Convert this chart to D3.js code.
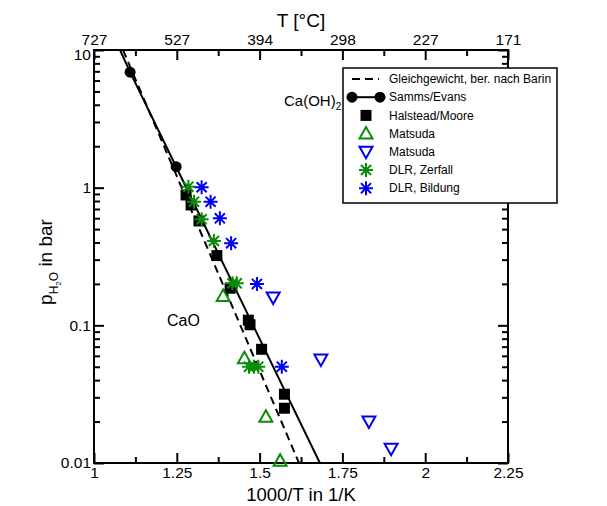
<!DOCTYPE html>
<html>
<head>
<meta charset="utf-8">
<script src="https://cdn.jsdelivr.net/npm/d3@7"></script>
<style>
  body { margin: 0; background: #fff; }
  text { font-family: "Liberation Sans", Arial, Helvetica, sans-serif; }
</style>
</head>
<body>
<svg id="chart" width="607" height="506"></svg>
<script>
// axis ticks
const xTicks = [1, 1.25, 1.5, 1.75, 2, 2.25];
const xMinorTicks = [1.125, 1.375, 1.625, 1.875, 2.125];
const tempLabels = ["727", "527", "394", "298", "227", "171"];
const yTicks = [0.01, 0.1, 1, 10];
const yTickLabels = ["0.01", "0.1", "1", "10"];

// equilibrium line (Barin)
const barinX = [1.0876, 1.619];
const barinP = [10, 0.01];

// Samms/Evans line and its measured points
const sammsLineX = [1.0785, 1.109, 1.248, 1.682];
const sammsLineP = [10, 6.9, 1.42, 0.01];
const sammsX = [1.109, 1.248];
const sammsP = [6.9, 1.42];

// Halstead/Moore
const halsteadX = [1.278, 1.293, 1.317, 1.371, 1.411, 1.466, 1.471, 1.506, 1.575, 1.575];
const halsteadP = [0.885, 0.749, 0.573, 0.321, 0.186, 0.109, 0.101, 0.067, 0.0316, 0.025];

// Matsuda (up, green)
const matsudaUpX = [1.390, 1.454, 1.519, 1.562];
const matsudaUpP = [0.1635, 0.0577, 0.0217, 0.0104];

// Matsuda (down, blue)
const matsudaDownX = [1.541, 1.685, 1.830, 1.897];
const matsudaDownP = [0.159, 0.0565, 0.020, 0.0127];

// DLR, Zerfall
const zerfallX = [1.285, 1.302, 1.325, 1.362, 1.418, 1.431, 1.468, 1.483, 1.496];
const zerfallP = [1.017, 0.791, 0.589, 0.410, 0.202, 0.202, 0.0501, 0.0501, 0.0501];

// DLR, Bildung
const bildungX = [1.325, 1.352, 1.380, 1.414, 1.492, 1.567];
const bildungP = [1.007, 0.791, 0.599, 0.395, 0.200, 0.0501];

const legendItems = ["Gleichgewicht, ber. nach Barin", "Samms/Evans", "Halstead/Moore",
  "Matsuda", "Matsuda", "DLR, Zerfall", "DLR, Bildung"];

const green = "#0a8c0a";
const blue = "#0000f0";

const margin = { top: 50, right: 99, bottom: 43, left: 94 };
const width = 607, height = 506;

const svg = d3.select("#chart");

const x = d3.scaleLinear().domain([1, 2.25]).range([margin.left, width - margin.right]);
const y = d3.scaleLog().domain([0.01, 10]).range([height - margin.bottom, margin.top]);

const zip = (xs, ps) => xs.map((v, i) => ({ x: v, p: ps[i] }));

svg.append("defs").append("clipPath").attr("id", "plotClip")
  .append("rect")
  .attr("x", x(1)).attr("y", y(10))
  .attr("width", x(2.25) - x(1)).attr("height", y(0.01) - y(10));

// axes
const yMinor = y.ticks().filter(t => !yTicks.includes(t));

function styleAxis(g) {
  g.select(".domain").remove();
  g.selectAll(".tick line").attr("stroke", "#000").attr("stroke-width", 2);
  g.selectAll("text").attr("font-size", 15.5).attr("fill", "#000");
}

svg.append("g")
  .attr("transform", `translate(0,${y(0.01)})`)
  .call(d3.axisBottom(x).tickValues(xTicks).tickSize(-10).tickPadding(4)
    .tickFormat(d3.format("")))
  .call(styleAxis);
svg.append("g")
  .attr("transform", `translate(0,${y(0.01)})`)
  .call(d3.axisBottom(x).tickValues(xMinorTicks).tickSize(-6).tickFormat(""))
  .call(styleAxis);

svg.append("g")
  .attr("transform", `translate(0,${y(10)})`)
  .call(d3.axisTop(x).tickValues(xTicks).tickSize(-10).tickPadding(5)
    .tickFormat((d, i) => tempLabels[i]))
  .call(styleAxis);
svg.append("g")
  .attr("transform", `translate(0,${y(10)})`)
  .call(d3.axisTop(x).tickValues(xMinorTicks).tickSize(-6).tickFormat(""))
  .call(styleAxis);

const leftAxis = svg.append("g")
  .attr("transform", `translate(${x(1)},0)`)
  .call(d3.axisLeft(y).tickValues(yTicks).tickSize(-10).tickPadding(3)
    .tickFormat((d, i) => yTickLabels[i]))
  .call(styleAxis);
// the "10" label sits a little lower, below the top corner label
leftAxis.selectAll(".tick text").filter(d => d === 10).attr("dy", "0.62em");
svg.append("g")
  .attr("transform", `translate(${x(1)},0)`)
  .call(d3.axisLeft(y).tickValues(yMinor).tickSize(-6).tickFormat(""))
  .call(styleAxis);

svg.append("g")
  .attr("transform", `translate(${x(2.25)},0)`)
  .call(d3.axisRight(y).tickValues(yTicks).tickSize(-10).tickFormat(""))
  .call(styleAxis);
svg.append("g")
  .attr("transform", `translate(${x(2.25)},0)`)
  .call(d3.axisRight(y).tickValues(yMinor).tickSize(-6).tickFormat(""))
  .call(styleAxis);

// frame
svg.append("rect")
  .attr("x", x(1)).attr("y", y(10))
  .attr("width", x(2.25) - x(1)).attr("height", y(0.01) - y(10))
  .attr("fill", "none").attr("stroke", "#000").attr("stroke-width", 2);

// lines
const line = d3.line().x(d => x(d.x)).y(d => y(d.p));
const plot = svg.append("g").attr("clip-path", "url(#plotClip)");

plot.append("path")
  .attr("d", line(zip(barinX, barinP)))
  .attr("fill", "none").attr("stroke", "#000").attr("stroke-width", 2)
  .attr("stroke-dasharray", "8,5");

plot.append("path")
  .attr("d", line(zip(sammsLineX, sammsLineP)))
  .attr("fill", "none").attr("stroke", "#000").attr("stroke-width", 2);

// symbol helpers
function star(g, cx, cy, r, color) {
  const d = [[0, -r, 0, r], [-r, 0, r, 0], [-r * 0.72, -r * 0.72, r * 0.72, r * 0.72],
    [-r * 0.72, r * 0.72, r * 0.72, -r * 0.72]]
    .map(s => `M${cx + s[0]},${cy + s[1]}L${cx + s[2]},${cy + s[3]}`).join("");
  g.append("path").attr("d", d).attr("stroke", color).attr("stroke-width", 2).attr("fill", "none");
}
function triUp(g, cx, cy, color) {
  g.append("path")
    .attr("d", `M${cx},${cy - 6.5}L${cx + 6.5},${cy + 5}L${cx - 6.5},${cy + 5}Z`)
    .attr("fill", "none").attr("stroke", color).attr("stroke-width", 2);
}
function triDown(g, cx, cy, color) {
  g.append("path")
    .attr("d", `M${cx},${cy + 6.5}L${cx + 6.5},${cy - 5}L${cx - 6.5},${cy - 5}Z`)
    .attr("fill", "none").attr("stroke", color).attr("stroke-width", 2);
}
function square(g, cx, cy) {
  g.append("rect").attr("x", cx - 5.5).attr("y", cy - 5.5)
    .attr("width", 11).attr("height", 11).attr("fill", "#000");
}
function dot(g, cx, cy) {
  g.append("circle").attr("cx", cx).attr("cy", cy).attr("r", 5.5).attr("fill", "#000");
}

const marks = svg.append("g");
zip(sammsX, sammsP).forEach(d => dot(marks, x(d.x), y(d.p)));
zip(halsteadX, halsteadP).forEach(d => square(marks, x(d.x), y(d.p)));
zip(matsudaUpX, matsudaUpP).forEach(d => triUp(marks, x(d.x), y(d.p), green));
zip(matsudaDownX, matsudaDownP).forEach(d => triDown(marks, x(d.x), y(d.p), blue));
zip(zerfallX, zerfallP).forEach(d => star(marks, x(d.x), y(d.p), 7, green));
zip(bildungX, bildungP).forEach(d => star(marks, x(d.x), y(d.p), 7, blue));

// annotations
const caoh = svg.append("text").attr("x", 284).attr("y", 106).attr("font-size", 15);
caoh.append("tspan").text("Ca(OH)");
caoh.append("tspan").attr("font-size", 10).attr("dy", 4).text("2");
svg.append("text").attr("x", 167).attr("y", 326).attr("font-size", 16).text("CaO");

// axis titles
svg.append("text").attr("x", 301).attr("y", 27).attr("text-anchor", "middle")
  .attr("font-size", 19).text("T [°C]");
svg.append("text").attr("x", 301).attr("y", 501).attr("text-anchor", "middle")
  .attr("font-size", 18.5).text("1000/T in 1/K");

const yTitle = svg.append("text")
  .attr("transform", "translate(52,262) rotate(-90)")
  .attr("text-anchor", "middle").attr("font-size", 19);
yTitle.append("tspan").text("p");
yTitle.append("tspan").attr("font-size", 12).attr("dy", 6).text("H");
yTitle.append("tspan").attr("font-size", 8).attr("dy", 3).text("2");
yTitle.append("tspan").attr("font-size", 12).attr("dy", -3).text("O");
yTitle.append("tspan").attr("dy", -6).text(" in bar");

// legend
const lg = svg.append("g");
lg.append("rect").attr("x", 343).attr("y", 68).attr("width", 214).attr("height", 135)
  .attr("fill", "#fff").attr("stroke", "#000").attr("stroke-width", 1.5);
const rowY = i => 79 + i * 18.2;
legendItems.forEach((t, i) => {
  lg.append("text").attr("x", 389).attr("y", rowY(i)).attr("dy", "0.35em")
    .attr("font-size", 12).text(t);
});
lg.append("line").attr("x1", 352).attr("x2", 379).attr("y1", rowY(0)).attr("y2", rowY(0))
  .attr("stroke", "#000").attr("stroke-width", 2).attr("stroke-dasharray", "8,5");
lg.append("line").attr("x1", 352).attr("x2", 380).attr("y1", rowY(1)).attr("y2", rowY(1))
  .attr("stroke", "#000").attr("stroke-width", 2);
dot(lg, 352, rowY(1));
dot(lg, 380, rowY(1));
square(lg, 366, rowY(2));
triUp(lg, 366, rowY(3), green);
triDown(lg, 366, rowY(4), blue);
star(lg, 366, rowY(5), 7, green);
star(lg, 366, rowY(6), 7, blue);
</script>
</body>
</html>
